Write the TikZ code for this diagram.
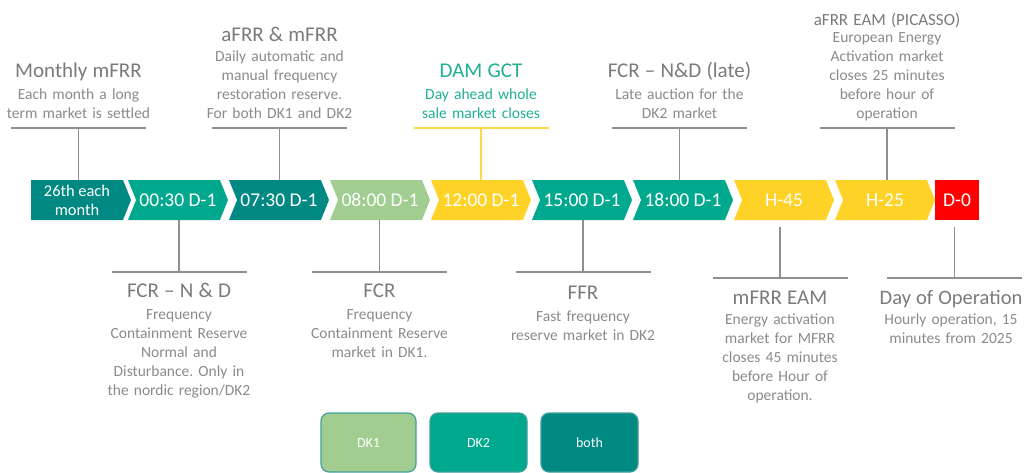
\documentclass[tikz,border=0pt]{standalone}
\usepackage{fontspec}
\setmainfont{Carlito}
\usetikzlibrary{shapes.symbols}
\frenchspacing

\definecolor{colBoth}{HTML}{008982}
\definecolor{colDKtwo}{HTML}{00A88E}
\definecolor{colDKone}{HTML}{A1CE90}
\definecolor{colGate}{HTML}{FFD228}
\definecolor{colOp}{HTML}{FF0000}
\definecolor{ttlgray}{HTML}{7A7A7A}
\definecolor{subgray}{HTML}{8A8A8A}
\definecolor{linegray}{HTML}{8F8F8F}
\definecolor{damteal}{HTML}{1FAF92}
\definecolor{damline}{HTML}{FFD84A}
\definecolor{keyedge}{HTML}{3F9F99}

\newcommand{\ttlfont}{\fontsize{21}{19}\selectfont}
\newcommand{\dscfont}{\fontsize{15.5}{19}\selectfont}
\newcommand{\chevfont}{\fontsize{19.5}{20}\selectfont}
\newcommand{\lbltitle}[1]{{\color{ttlgray}\ttlfont #1}}

\tikzset{
    chev/.style={signal, signal to=east, signal from=west, signal pointer angle=136,
        minimum width=100pt, minimum height=40pt, inner sep=0pt, outer sep=0pt,
        text=white, font=\chevfont},
    lbl/.style={text width=150pt, align=center, anchor=base, inner sep=0pt,
        text=subgray, font=\dscfont},
    brknode/.style={minimum width=135pt, minimum height=0pt, inner sep=0pt, outer sep=0pt},
    brk/.style={draw=linegray, line width=1.8pt},
    keybox/.style={rounded corners=8pt, draw=keyedge, line width=1.2pt,
        minimum height=59pt, text=white, font=\fontsize{14}{16}\selectfont}
}

\begin{document}
\begin{tikzpicture}[x=1pt, y=-1pt]
    \useasboundingbox (0,0) rectangle (1024,473);

    % 1. Tidslinje (pile)
    \node[chev, signal from=nowhere, fill=colBoth, align=center,
        font=\fontsize{16.4}{19}\selectfont] (c0) at (77,200) {26th each\\month};
    \foreach \i/\t/\c in {1/00:30 D-1/colDKtwo, 2/07:30 D-1/colBoth, 3/08:00 D-1/colDKone,
                          4/12:00 D-1/colGate, 5/15:00 D-1/colDKtwo, 6/18:00 D-1/colDKtwo,
                          7/H-45/colGate, 8/H-25/colGate} {
        \node[chev, fill=\c] (c\i) at ({77+101*\i},200) {\t};
    }
    \node[fill=colOp, minimum width=44pt, minimum height=40pt, inner sep=0pt,
        outer sep=0pt, text=white, font=\chevfont] (c9) at (957,200) {D-0};

    % 2. Markeder over tidslinjen
    \node[lbl] (tMon) at (78.5,78) {\lbltitle{Monthly mFRR}\\[3pt]Each month a long\\term market is settled};
    \node[lbl] (tAm) at (279.5,42) {\lbltitle{aFRR \& mFRR}\\[1pt]Daily automatic and\\manual frequency\\restoration reserve.\\For both DK1 and DK2};
    \node[lbl, text=damteal] (tDam) at (481,78) {{\ttlfont DAM GCT}\\[3pt]Day ahead whole\\sale market closes};
    \node[lbl] (tLate) at (679.5,78) {\lbltitle{FCR – N\&D (late)}\\[3pt]Late auction for the\\DK2 market};
    \node[lbl] (tPic) at (887,26) {{\color{ttlgray}\fontsize{17}{19}\selectfont aFRR EAM (PICASSO)}\\[-2pt]European Energy\\Activation market\\closes 25 minutes\\before hour of\\operation};

    \node[brknode] (bMon) at (78.5,128) {};
    \node[brknode] (bAm) at (279.5,128) {};
    \node[brknode] (bDam) at (481,128) {};
    \node[brknode] (bLate) at (679.5,128) {};
    \node[brknode] (bPic) at (887,128) {};

    \foreach \b/\c in {bMon/c0, bAm/c2, bLate/c6, bPic/c8} {
        \draw[brk] (\b.west) -- (\b.east);
        \draw[brk] (\b.center) -- (\b.center |- \c.north);
    }
    \draw[brk, draw=damline] (bDam.west) -- (bDam.east);
    \draw[brk, draw=damline] (bDam.center) -- (bDam.center |- c4.north);

    % 3. Markeder under tidslinjen
    \node[lbl] (tNd) at (179,297.5) {\lbltitle{FCR – N \& D}\\[2.5pt]Frequency\\Containment Reserve\\Normal and\\Disturbance. Only in\\the nordic region/DK2};
    \node[lbl] (tFcr) at (379.5,297.5) {\lbltitle{FCR}\\[2.5pt]Frequency\\Containment Reserve\\market in DK1.};
    \node[lbl] (tFfr) at (583,299.5) {\lbltitle{FFR}\\[2.5pt]Fast frequency\\reserve market in DK2};
    \node[lbl] (tEam) at (780,304.5) {\lbltitle{mFRR EAM}\\[1pt]Energy activation\\market for MFRR\\closes 45 minutes\\before Hour of\\operation.};
    \node[lbl] (tDay) at (951,304.5) {{\color{ttlgray}\fontsize{20.5}{19}\selectfont Day of Operation}\\[1pt]Hourly operation, 15\\minutes from 2025};

    \node[brknode] (bNd) at (179,272) {};
    \node[brknode] (bFcr) at (379.5,272) {};
    \node[brknode] (bFfr) at (583,272) {};
    \node[brknode] (bEam) at (780,278) {};
    \node[brknode] (bDay) at (954.5,278) {};

    \foreach \b/\c in {bNd/c1, bFcr/c3, bFfr/c5} {
        \draw[brk] (\b.west) -- (\b.east);
        \draw[brk] (\b.center) -- (\b.center |- \c.south);
    }
    \foreach \b/\c in {bEam/c7, bDay/c9} {
        \draw[brk] (\b.west) -- (\b.east);
        \draw[brk] (\b.center) -- ([yshift=-7pt]\b.center |- \c.south);
    }

    % 4. Forklaring
    \node[keybox, fill=colDKone, minimum width=95pt] (kOne) at (368.5,442.5) {DK1};
    \node[keybox, fill=colDKtwo, minimum width=97pt] (kTwo) at (478.5,442.5) {DK2};
    \node[keybox, fill=colBoth, minimum width=97pt] (kBoth) at (589.5,442.5) {both};
\end{tikzpicture}
\end{document}
